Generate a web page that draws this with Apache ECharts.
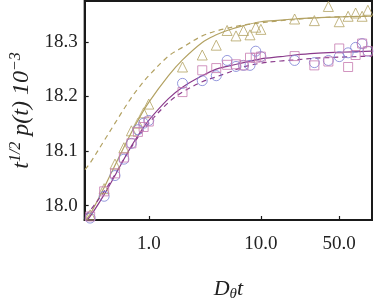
<!DOCTYPE html>
<html><head><meta charset="utf-8">
<script src="https://cdn.jsdelivr.net/npm/echarts@6/dist/echarts.min.js"></script>
<style>html,body{margin:0;padding:0;background:#fff}#c{width:374px;height:307px}</style>
</head><body><div id="c"></div>
<script>
// measured x values (D_theta t)
const xPts = [0.3,0.4,0.5,0.6,0.7,0.8,0.9,1,2,3,4,5,6,7,8,9,10,20,30,40,50,60,70,80,90];
const triangles = [17.983,18.031,18.076,18.106,18.137,18.151,18.170,18.186,18.254,18.276,18.294,18.321,18.311,18.321,18.313,18.327,18.323,18.342,18.339,18.365,18.337,18.347,18.353,18.347,18.358];
const circles = [17.977,18.017,18.055,18.085,18.114,18.139,18.151,18.156,18.224,18.229,18.238,18.266,18.255,18.257,18.257,18.283,18.273,18.266,18.262,18.266,18.273,18.280,18.290,18.297,18.283];
const squares = [17.980,18.026,18.059,18.088,18.114,18.135,18.144,18.154,18.208,18.248,18.252,18.258,18.259,18.257,18.271,18.271,18.273,18.274,18.257,18.264,18.288,18.254,18.276,18.297,18.283];
// fitted curves
const curveX = [0.27,0.3,0.4,0.5,0.6,0.7,0.8,1,1.5,2,3,4,5,7,10,15,20,30,50,98];
const oliveSolid = [17.972,17.984,18.033,18.074,18.107,18.134,18.156,18.189,18.238,18.267,18.299,18.313,18.321,18.330,18.337,18.340,18.342,18.344,18.346,18.347];
const oliveDashed = [18.066,18.078,18.119,18.151,18.177,18.198,18.214,18.238,18.274,18.290,18.311,18.320,18.325,18.331,18.335,18.339,18.341,18.344,18.346,18.347];
const purpleSolid = [17.970,17.980,18.020,18.055,18.085,18.109,18.128,18.156,18.196,18.217,18.238,18.250,18.255,18.262,18.269,18.273,18.276,18.279,18.281,18.283];
const purpleDashed = [17.982,17.991,18.026,18.057,18.085,18.107,18.125,18.151,18.189,18.208,18.227,18.236,18.243,18.254,18.261,18.265,18.267,18.270,18.272,18.274];
const xTicks = [1,10,50];
const yTicks = [18.0,18.1,18.2,18.3];

const OLIVE = '#b3a263', BLUE = '#7a7fd4', PINK = '#c77bb0', PURPLE = '#8a3b8c';
const pair = (xs, ys) => xs.map((x,i)=>[x, ys[i]]);
const font = '"Liberation Serif","DejaVu Serif",serif';
const chart = echarts.init(document.getElementById('c'), null, {renderer:'canvas'});
const hollow = c => ({color:'rgba(0,0,0,0)', borderColor:c, borderWidth:1});
const curve = (ys, color, dashed) => ({type:'line',data:pair(curveX,ys),smooth:0.35,showSymbol:false,
  lineStyle:{color:color,width:1.2,type:dashed?[5,4]:'solid'},z:2});
chart.setOption({
  animation:false,
  grid:{left:83,right:2,top:1,bottom:75,show:true,borderColor:'#1a1a1a',borderWidth:2,containLabel:false},
  xAxis:{type:'log',logBase:10,min:0.268,max:98,
    name:'{i|D}{s|θ}{i|t}',nameLocation:'middle',nameGap:57,
    nameTextStyle:{rich:{i:{fontFamily:font,fontStyle:'italic',fontSize:22,color:'#222'},s:{fontFamily:font,fontStyle:'italic',fontSize:15,color:'#222',padding:[10,0,0,0]}}},
    axisLine:{show:true,lineStyle:{color:'#1a1a1a',width:2}},
    axisTick:{show:true,inside:true,length:4,customValues:xTicks,lineStyle:{color:'#1a1a1a',width:1.2}},
    minorTick:{show:false},
    axisLabel:{customValues:xTicks,fontFamily:font,fontSize:19,color:'#222',margin:15,formatter:v=>Number(v).toFixed(1)},
    splitLine:{show:false}},
  yAxis:{type:'value',min:17.9735,max:18.375,
    name:'{i|t}{p|1/2}{i| p(t) 10}{p|−3}',nameLocation:'middle',nameGap:47,nameRotate:90,
    nameTextStyle:{rich:{i:{fontFamily:font,fontStyle:'italic',fontSize:24,color:'#222'},p:{fontFamily:font,fontStyle:'italic',fontSize:16,color:'#222',padding:[0,0,11,0]}}},
    axisLine:{show:true,lineStyle:{color:'#1a1a1a',width:2}},
    axisTick:{show:true,inside:true,length:4,customValues:yTicks,lineStyle:{color:'#1a1a1a',width:1.2}},
    axisLabel:{customValues:yTicks,fontFamily:font,fontSize:19,color:'#222',margin:7,formatter:v=>Number(v).toFixed(1)},
    splitLine:{show:false}},
  series:[
    curve(oliveDashed, OLIVE, true),
    curve(oliveSolid, OLIVE, false),
    curve(purpleDashed, PURPLE, true),
    curve(purpleSolid, PURPLE, false),
    {type:'scatter',data:pair(xPts,triangles),symbol:'triangle',symbolSize:10,itemStyle:hollow(OLIVE),z:3},
    {type:'scatter',data:pair(xPts,circles),symbol:'circle',symbolSize:10,itemStyle:hollow(BLUE),z:3},
    {type:'scatter',data:pair(xPts,squares),symbol:'rect',symbolSize:9,itemStyle:hollow(PINK),z:3}
  ]
});
</script></body></html>
